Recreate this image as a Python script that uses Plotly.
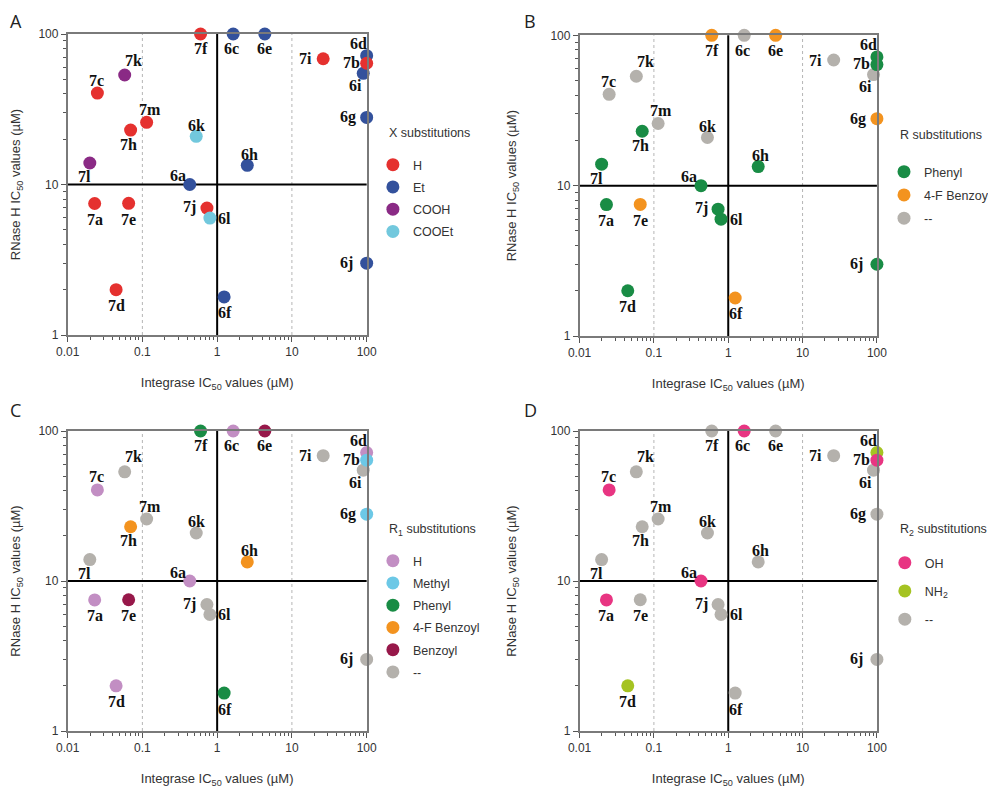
import math
import plotly.graph_objects as go

# ---------------- data ----------------
compounds = ["6a", "6c", "6d", "6e", "6f", "6g", "6h", "6i", "6j", "6k", "6l",
             "7a", "7b", "7c", "7d", "7e", "7f", "7h", "7i", "7j", "7k", "7l", "7m"]
integrase_ic50 = [0.43, 1.64, 100, 4.34, 1.24, 100, 2.53, 90, 100, 0.525, 0.80,
                  0.023, 100, 0.025, 0.0445, 0.0655, 0.60, 0.0696, 26.2, 0.73, 0.058, 0.0198, 0.114]
rnaseh_ic50 = [10, 100, 71.8, 100, 1.79, 27.9, 13.4, 54.8, 3.0, 20.9, 5.98,
               7.48, 63.9, 40.5, 2.0, 7.5, 100, 23.0, 68.5, 6.97, 53.4, 13.9, 25.9]

x_subst = ["Et", "Et", "Et", "Et", "Et", "Et", "Et", "Et", "Et", "COOEt", "COOEt",
           "H", "H", "H", "H", "H", "H", "H", "H", "H", "COOH", "COOH", "H"]
r_subst = ["Phenyl", "--", "Phenyl", "4-F Benzoyl", "4-F Benzoyl", "4-F Benzoyl", "Phenyl", "--", "Phenyl", "--", "Phenyl",
           "Phenyl", "Phenyl", "--", "Phenyl", "4-F Benzoyl", "4-F Benzoyl", "Phenyl", "--", "Phenyl", "--", "Phenyl", "--"]
r1_subst = ["H", "H", "H", "Benzoyl", "Phenyl", "Methyl", "4-F Benzoyl", "--", "--", "--", "--",
            "H", "Methyl", "H", "H", "Benzoyl", "Phenyl", "4-F Benzoyl", "--", "--", "--", "--", "--"]
r2_subst = ["OH", "OH", "NH2", "--", "--", "--", "--", "--", "--", "--", "--",
            "OH", "OH", "OH", "NH2", "--", "--", "--", "--", "--", "--", "--", "--"]

x_ticks = [0.01, 0.1, 1, 10, 100]
x_ticktext = ["0.01", "0.1", "1", "10", "100"]
y_ticks = [1, 10, 100]
y_ticktext = ["1", "10", "100"]
integrase_cutoff = 1        # solid black vertical line
rnaseh_cutoff = 10          # solid black horizontal line
dotted_x = [0.1, 10]        # light dotted vertical guides

# ---------------- styling ----------------
panels = [
    ("A", x_subst, "X substitutions", ["H", "Et", "COOH", "COOEt"],
     {"H": "#E5312F", "Et": "#33519C", "COOH": "#8A2A85", "COOEt": "#72C8DD"},
     ["Et", "H", "COOH", "COOEt"], 3),
    ("B", r_subst, "R substitutions", ["Phenyl", "4-F Benzoyl", "--"],
     {"Phenyl": "#198C45", "4-F Benzoyl": "#F3931F", "--": "#B4B1AC"},
     ["--", "4-F Benzoyl", "Phenyl"], 4),
    ("C", r1_subst, "R<sub>1</sub> substitutions", ["H", "Methyl", "Phenyl", "4-F Benzoyl", "Benzoyl", "--"],
     {"H": "#C28EC3", "Methyl": "#6CC8E6", "Phenyl": "#198C45", "4-F Benzoyl": "#F3931F",
      "Benzoyl": "#97184A", "--": "#B4B1AC"},
     ["--", "H", "Methyl", "Phenyl", "4-F Benzoyl", "Benzoyl"], 3),
    ("D", r2_subst, "R<sub>2</sub> substitutions", ["OH", "NH2", "--"],
     {"OH": "#E83582", "NH2": "#A5C322", "--": "#B4B1AC"},
     ["--", "NH2", "OH"], 9),
]
cat_label = {"NH2": "NH<sub>2</sub>"}

# the page body has an 8px margin: figure is shifted by OFF, all positions below are page pixels
OFF = 8
W, H = 996 - OFF, 788 - OFF


def px(xp):
    return (xp - OFF) / W


def py(yp):
    return 1 - (yp - OFF) / H


areas = [(68.3, 370.7, 34.0, 335.0), (586.0, 886.7, 35.3, 336.0),
         (68.3, 370.7, 431.0, 731.0), (586.0, 886.7, 431.0, 731.0)]
letter_pos = [(16, 21), (536, 21), (16, 410), (536, 410)]
legend_title_pos = [(390.7, 133.3), (907.3, 134.7), (390.7, 530), (906.7, 530)]
legend_pos = [(377, 150), (894, 157), (377, 546), (894.7, 548)]

label_offsets = {
    "6a": (-12, -9), "6c": (-2, 15), "6d": (-8, -12), "6e": (0, 15), "6f": (1, 16),
    "6g": (-19, 0), "6h": (2, -11), "6i": (-8, 12), "6j": (-20, 0), "6k": (0, -11),
    "6l": (15, 0), "7a": (0, 16), "7b": (-15, -1), "7c": (-1, -13), "7d": (0, 16),
    "7e": (0, 16), "7f": (0, 15), "7h": (-2, 14), "7i": (-18, 0), "7j": (-17, -1),
    "7k": (9, -15), "7l": (-5, 14), "7m": (3, -13),
}

SANS = "Liberation Sans, Arial"
AXIS_FONT = dict(family=SANS, size=12, color="#333333")
LEG_FONT = dict(family=SANS, size=12.5, color="#333333")
minor_x = [m * 10 ** e for e in range(-2, 2) for m in range(2, 10)]
minor_y = [m * 10 ** e for e in range(0, 2) for m in range(2, 10)]

fig = go.Figure()
layout = dict(width=W, height=H, margin=dict(l=0, r=0, t=0, b=0),
              paper_bgcolor="white", plot_bgcolor="white", showlegend=True)
annotations = []
shapes = []

for i, (letter, subst, ltitle, cats, colors, order, gap) in enumerate(panels):
    k = "" if i == 0 else str(i + 1)
    xa, ya = "x" + k, "y" + k
    leg = "legend" + k
    l, r, t, b = areas[i]
    layout["xaxis" + k] = dict(
        type="log", range=[-2, 2], domain=[px(l), px(r)], anchor=ya,
        tickvals=x_ticks, ticktext=x_ticktext, ticks="outside", ticklen=5, tickwidth=1,
        tickcolor="#555555", tickfont=AXIS_FONT,
        showline=True, mirror=True, linecolor="#7a7a7a", linewidth=1.5,
        showgrid=False, zeroline=False, automargin=False,
        minor=dict(ticks="outside", ticklen=3, tickvals=minor_x, tickcolor="#555555", showgrid=False),
        title=dict(text="Integrase IC<sub>50</sub> values (µM)", standoff=20,
                   font=dict(family=SANS, size=13, color="#333333")),
    )
    layout["yaxis" + k] = dict(
        type="log", range=[0, 2], domain=[py(b), py(t)], anchor=xa,
        tickvals=y_ticks, ticktext=y_ticktext, ticks="outside", ticklen=5, tickwidth=1,
        tickcolor="#555555", tickfont=AXIS_FONT,
        showline=True, mirror=True, linecolor="#7a7a7a", linewidth=1.5,
        showgrid=False, zeroline=False, automargin=False,
        minor=dict(ticks="outside", ticklen=3, tickvals=minor_y, tickcolor="#555555", showgrid=False),
        title=dict(text="RNase H IC<sub>50</sub> values (µM)", standoff=31,
                   font=dict(family=SANS, size=13, color="#333333")),
    )
    for xv in dotted_x:
        shapes.append(dict(type="line", xref=xa, yref="paper", x0=xv, x1=xv, y0=py(b), y1=py(t),
                           line=dict(color="#b5b5b5", width=1, dash="dot"), layer="below"))
    shapes.append(dict(type="line", xref=xa, yref="paper", x0=integrase_cutoff, x1=integrase_cutoff,
                       y0=py(b), y1=py(t), line=dict(color="black", width=2), layer="below"))
    shapes.append(dict(type="line", xref="paper", yref=ya, x0=px(l), x1=px(r),
                       y0=rnaseh_cutoff, y1=rnaseh_cutoff,
                       line=dict(color="black", width=2), layer="below"))

    for cat in order:
        idx = [j for j, s in enumerate(subst) if s == cat]
        fig.add_trace(go.Scatter(
            x=[integrase_ic50[j] for j in idx], y=[rnaseh_ic50[j] for j in idx],
            mode="markers", name=cat_label.get(cat, cat),
            marker=dict(size=13, color=colors[cat], line=dict(width=0)),
            cliponaxis=False, xaxis=xa, yaxis=ya, legend=leg,
            legendgroup=letter + cat, legendrank=cats.index(cat) + 1, hoverinfo="skip",
        ))
    for j, c in enumerate(compounds):
        dx, dy = label_offsets[c]
        annotations.append(dict(
            x=math.log10(integrase_ic50[j]), y=math.log10(rnaseh_ic50[j]), xref=xa, yref=ya,
            text="<b>" + c + "</b>", showarrow=False, xshift=dx, yshift=-dy,
            font=dict(family="Liberation Serif, Times New Roman", size=16, color="#111111"),
        ))
    lx, ly = letter_pos[i]
    annotations.append(dict(x=px(lx), y=py(ly), xref="paper", yref="paper", text=letter,
                            showarrow=False, xanchor="center", yanchor="middle", borderpad=0,
                            font=dict(family="Open Sans, Liberation Sans", size=18, color="#222222")))
    tx, ty = legend_title_pos[i]
    annotations.append(dict(x=px(tx), y=py(ty), xref="paper", yref="paper", text=ltitle,
                            showarrow=False, xanchor="left", yanchor="middle", xshift=1,
                            font=LEG_FONT))
    gx, gy = legend_pos[i]
    layout[leg] = dict(
        x=px(gx), y=py(gy), xanchor="left", yanchor="top", tracegroupgap=gap,
        font=LEG_FONT, bgcolor="rgba(0,0,0,0)", itemsizing="trace", traceorder="grouped",
    )

layout["annotations"] = annotations
layout["shapes"] = shapes
fig.update_layout(**layout)
fig.write_html("out.html")
